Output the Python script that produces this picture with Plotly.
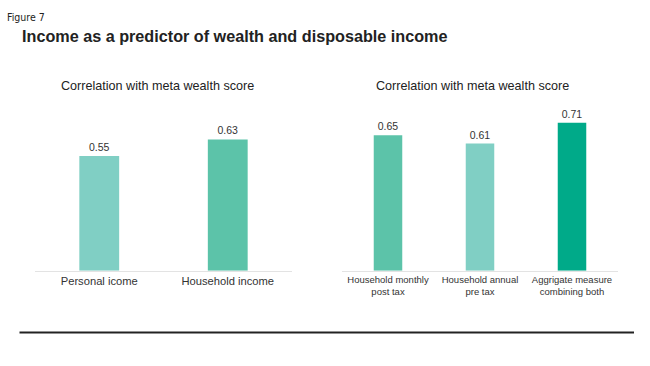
import plotly.graph_objects as go

left_categories = ["Personal icome", "Household income"]
left_values = [0.55, 0.63]
right_categories = ["Household monthly<br>post tax", "Household annual<br>pre tax", "Aggrigate measure<br>combining both"]
right_values = [0.65, 0.61, 0.71]

LIGHT = "#80CFC4"
MID = "#5CC3A9"
DARK = "#00AA89"

W, H = 650, 366
base_px = 270.7
scale = 208.4
ymax = 0.8
y0 = (H - base_px) / H
y1 = (H - (base_px - ymax * scale)) / H

fig = go.Figure()
fig.add_trace(go.Bar(
    x=left_categories, y=left_values, xaxis="x", yaxis="y",
    marker=dict(color=[LIGHT, MID], line=dict(width=0)),
    text=[f"{v:.2f}" for v in left_values], textposition="outside",
    textfont=dict(family="Liberation Sans, Arial", size=10.5, color="#333333"),
    cliponaxis=False, hoverinfo="skip",
))
fig.add_trace(go.Bar(
    x=right_categories, y=right_values, xaxis="x2", yaxis="y2",
    marker=dict(color=[MID, LIGHT, DARK], line=dict(width=0)),
    text=[f"{v:.2f}" for v in right_values], textposition="outside",
    textfont=dict(family="Liberation Sans, Arial", size=10.5, color="#333333"),
    cliponaxis=False, hoverinfo="skip",
))

axis_common = dict(showgrid=False, zeroline=False, showline=True, linecolor="#e3e3e3",
                   linewidth=1, ticks="", fixedrange=True)
fig.update_layout(
    width=W, height=H,
    margin=dict(l=0, r=0, t=0, b=0),
    paper_bgcolor="white", plot_bgcolor="white",
    showlegend=False, bargap=0.69,
    font=dict(family="Liberation Sans, Arial", color="#333333"),
    xaxis=dict(domain=[35 / W, 292 / W], anchor="y",
               tickfont=dict(size=11.2, color="#333333"), **axis_common),
    yaxis=dict(domain=[y0, y1], range=[0, ymax], visible=False, fixedrange=True),
    xaxis2=dict(domain=[342 / W, 618 / W], anchor="y2",
                tickfont=dict(size=9.5, color="#333333"), **axis_common),
    yaxis2=dict(domain=[y0, y1], range=[0, ymax], visible=False, fixedrange=True),
    annotations=[
        dict(text="Figure 7", x=5 / W, y=1 - 17 / H, xref="paper", yref="paper",
             xanchor="left", yanchor="middle", showarrow=False,
             font=dict(family="DejaVu Sans Condensed, Liberation Sans Narrow", size=10.5, color="#222222")),
        dict(text="<b>Income as a predictor of wealth and disposable income</b>",
             x=19.5 / W, y=1 - 36 / H, xref="paper", yref="paper",
             xanchor="left", yanchor="middle", showarrow=False,
             font=dict(family="Liberation Sans, Arial", size=16.2, color="#222222")),
        dict(text="Correlation with meta wealth score", x=157 / W, y=1 - 86 / H,
             xref="paper", yref="paper", xanchor="center", yanchor="middle", showarrow=False,
             font=dict(family="Liberation Sans, Arial", size=12.6, color="#222222")),
        dict(text="Correlation with meta wealth score", x=473 / W, y=1 - 86 / H,
             xref="paper", yref="paper", xanchor="center", yanchor="middle", showarrow=False,
             font=dict(family="Liberation Sans, Arial", size=12.6, color="#222222")),
    ],
    shapes=[
        dict(type="line", xref="paper", yref="paper", x0=19.5 / W, x1=634 / W,
             y0=1 - 332.5 / H, y1=1 - 332.5 / H, line=dict(color="#222222", width=2)),
    ],
)

fig.write_html("out.html", config={"displayModeBar": False},
               post_script="document.body.style.margin='0';document.body.style.overflow='hidden';")
